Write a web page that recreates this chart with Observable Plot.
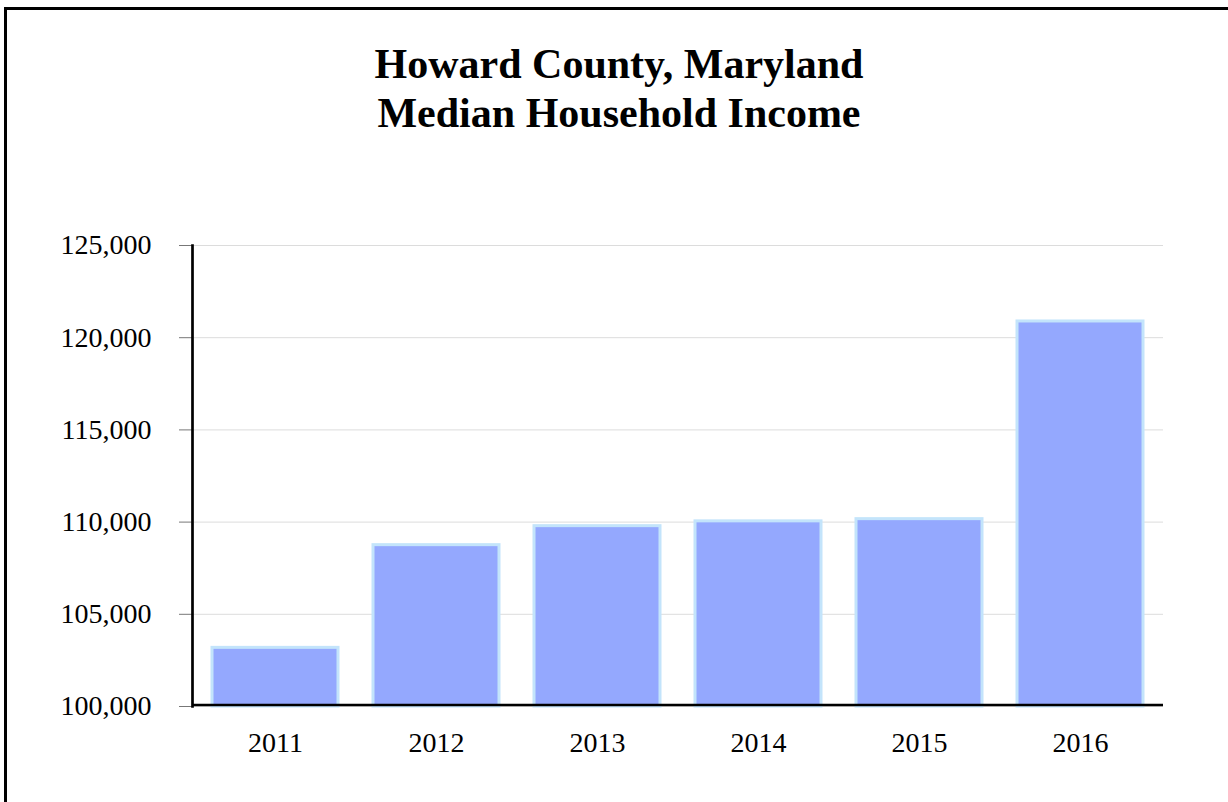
<!DOCTYPE html>
<html>
<head>
<meta charset="utf-8">
<script src="https://cdn.jsdelivr.net/npm/d3@7"></script>
<script src="https://cdn.jsdelivr.net/npm/@observablehq/plot@0.6"></script>
<style>
  html, body { margin: 0; padding: 0; background: #fff; overflow: hidden; }
  body { width: 1228px; height: 802px; position: relative; font-family: "Liberation Serif", "Times New Roman", serif; }
  #frame { position: absolute; left: 4px; top: 7px; right: -20px; bottom: -20px; border: 3px solid #000; box-sizing: border-box; }
  #title { position: absolute; left: 0; top: 40px; width: 1238px; text-align: center; font-weight: bold; font-size: 42px; line-height: 49px; color: #000; }
  #chart { position: absolute; left: 0; top: 150px; }
</style>
</head>
<body>
<div id="frame"></div>
<div id="title">Howard County, Maryland<br>Median Household Income</div>
<div id="chart"></div>
<script>
const years = ["2011", "2012", "2013", "2014", "2015", "2016"];
const incomes = [103180, 108750, 109780, 110040, 110160, 120880];
const yTicks = [100000, 105000, 110000, 115000, 120000, 125000];

const data = years.map((year, i) => ({ year, value: incomes[i] }));
const yMin = yTicks[0];

const chart = Plot.plot({
  width: 1228,
  height: 652,
  marginLeft: 192,
  marginRight: 65,
  marginTop: 95,
  marginBottom: 96,
  style: { fontFamily: "Liberation Serif, Times New Roman, serif", fontSize: "28px", color: "#000", background: "transparent" },
  x: { domain: years, paddingInner: 0.22, paddingOuter: 0.11, label: null },
  y: { domain: [yTicks[0], yTicks[yTicks.length - 1]], label: null },
  marks: [
    Plot.gridY(yTicks, { stroke: "#dcdcdc", strokeOpacity: 1, strokeWidth: 1 }),
    Plot.barY(data, { x: "year", y1: () => yMin, y2: "value", fill: "#94a8fe", stroke: "#c3e4fb", strokeWidth: 3 }),
    Plot.axisY(yTicks, { tickSize: 13, tickPadding: 28, tickFormat: d3.format(","), stroke: "#777", fill: "#000", fontSize: 28, label: null }),
    Plot.axisX({ tickSize: 0, tickPadding: 26, fill: "#000", fontSize: 28, label: null }),
    Plot.frame({ anchor: "left", stroke: "#000", strokeWidth: 2.7 }),
    Plot.ruleY([yMin], { stroke: "#000", strokeWidth: 2.7, dy: -1.5 })
  ]
});
document.getElementById("chart").appendChild(chart);
</script>
</body>
</html>
